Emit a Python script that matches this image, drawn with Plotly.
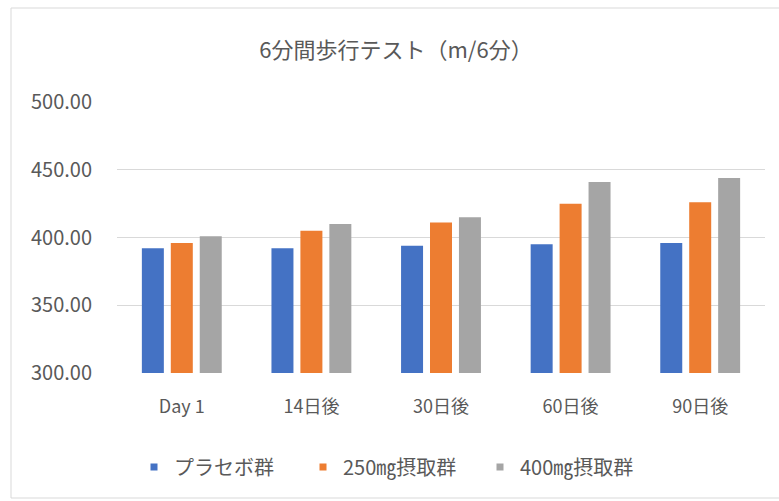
import plotly.graph_objects as go

# Data: 6-minute walk test (m / 6 min)
categories = ["Day 1", "14日後", "30日後", "60日後", "90日後"]
series_names = ["プラセボ群", "250㎎摂取群", "400㎎摂取群"]
placebo = [392, 392, 394, 395, 396]
dose_250 = [396, 405, 411, 425, 426]
dose_400 = [401, 410, 415, 441, 444]
y_ticks = [300, 350, 400, 450, 500]

colors = ["#4472C4", "#ED7D31", "#A5A5A5"]
text_color = "#595959"
grid_color = "#D9D9D9"
font_family = "Noto Sans CJK JP"

W, H = 779, 501
margin = dict(l=117, r=14, t=102, b=128, pad=0)

pw = W - margin["l"] - margin["r"]
ph = H - margin["t"] - margin["b"]


def px_x(p):
    return (p - margin["l"]) / pw


def px_y(p):
    return (H - margin["b"] - p) / ph


fig = go.Figure()
legend_ids = ["legend", "legend2", "legend3"]
for name, vals, col, lg in zip(series_names, [placebo, dose_250, dose_400],
                               colors, legend_ids):
    fig.add_trace(go.Bar(x=categories, y=vals, name=name, marker_color=col,
                         marker_line_width=0, showlegend=False))
    # small square key shown in the legend row
    fig.add_trace(go.Scatter(x=[None], y=[None], mode="markers", name=name,
                             marker=dict(symbol="square", size=7, color=col),
                             legend=lg, showlegend=True))

# outer chart frame (left, top and bottom edges)
frame = dict(type="line", xref="paper", yref="paper",
             line=dict(color=grid_color, width=1), layer="below")
fig.add_shape(x0=px_x(11), x1=px_x(11), y0=px_y(498), y1=px_y(8), **frame)
fig.add_shape(x0=px_x(11), x1=px_x(779), y0=px_y(8), y1=px_y(8), **frame)
fig.add_shape(x0=px_x(11), x1=px_x(779), y0=px_y(498), y1=px_y(498), **frame)

legend_font = dict(size=20, color=text_color, family=font_family)
legend_common = dict(orientation="h", xanchor="left", yanchor="middle",
                     y=px_y(467), font=legend_font, itemwidth=30,
                     bgcolor="rgba(0,0,0,0)")

fig.update_layout(
    width=W, height=H, margin=margin,
    paper_bgcolor="white", plot_bgcolor="white",
    font=dict(family=font_family, color=text_color),
    title=dict(text="6分間歩行テスト（m/6分）", x=396 / W, xanchor="center",
               y=1 - 50 / H, yanchor="middle",
               font=dict(size=22, color=text_color, family=font_family)),
    barmode="group", bargap=0.33, bargroupgap=0.24,
    legend=dict(x=px_x(134), **legend_common),
    legend2=dict(x=px_x(303), **legend_common),
    legend3=dict(x=px_x(480), **legend_common),
    xaxis=dict(showgrid=False, showline=False, ticks="",
               tickfont=dict(size=18, color=text_color),
               ticklabelstandoff=21),
    yaxis=dict(range=[300, 500], tickvals=y_ticks,
               ticktext=[f"{v:.2f}" for v in y_ticks],
               showgrid=True, gridcolor=grid_color, gridwidth=1,
               zeroline=False, showline=False, ticks="",
               tickfont=dict(size=20, color=text_color),
               ticklabelstandoff=24),
)

fig.write_html("out.html")
